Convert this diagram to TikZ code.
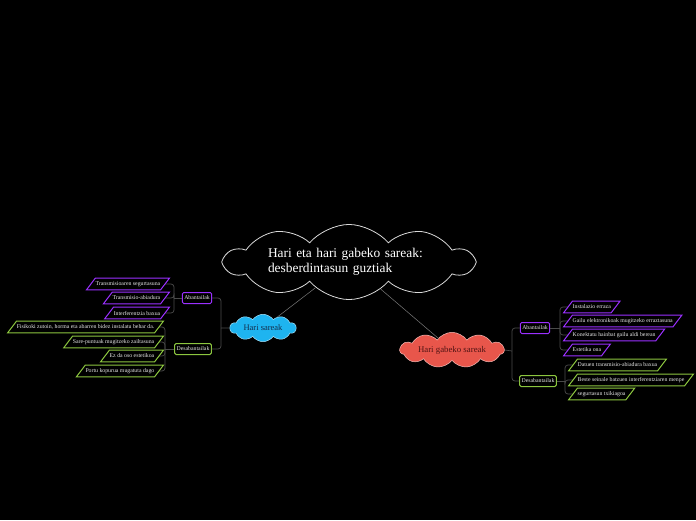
\documentclass[tikz,border=0pt]{standalone}
\usepackage{fontspec}
\setmainfont{Liberation Serif}
\usetikzlibrary{shapes.symbols}
\definecolor{pur}{HTML}{9B30FF}
\definecolor{grn}{HTML}{8CC63F}
\definecolor{cy}{HTML}{1EB4F0}
\definecolor{rd}{HTML}{E8564B}
\definecolor{connc}{HTML}{4A4A4A}
\definecolor{mainc}{HTML}{7A7A7A}
\definecolor{txt}{HTML}{E8E8E8}
\begin{document}
\begin{tikzpicture}[x=1pt,y=-1pt,
  fnt/.style={font=\fontsize{5.8}{6.8}\selectfont},
  item/.style={rectangle, draw=none, text=txt, fnt, inner xsep=4.5pt, inner ysep=0pt, minimum height=11.5pt},
  boxbase/.style={line width=1pt, rounded corners=1.5pt, fill=black, text=txt, fnt, minimum height=11pt, inner xsep=2pt, inner ysep=1pt},
  pbox/.style={boxbase, draw=pur},
  gbox/.style={boxbase, draw=grn},
  paraline/.style={line width=1pt, line join=miter},
  link/.style={draw=connc, line width=0.7pt, rounded corners=3pt},
  mainlink/.style={draw=mainc, line width=0.5pt},
]
\fill[black] (0,0) rectangle (696,520);
\useasboundingbox (0,0) rectangle (696,520);

% central cloud
\node[cloud, cloud puffs=10, cloud puff arc=100, cloud ignores aspect, minimum width=248pt, minimum height=64pt, draw=white!85!black, fill=black, line width=0.8pt, text=white, text width=162pt, align=left, inner sep=2pt, font=\fontsize{13.4}{14.5}\selectfont] (main) at (349,262) {Hari eta hari gabeko sareak:\\desberdintasun guztiak};

\node[cloud, cloud puffs=10, cloud puff arc=110, cloud ignores aspect, minimum width=66pt, minimum height=26pt, draw=cy!40!white, fill=cy, line width=0.5pt, text={rgb,255:red,20;green,45;blue,75}, font=\fontsize{8.5}{10}\selectfont] (hari) at (263,328) {Hari sareak};

\node[cloud, cloud puffs=11, cloud puff arc=110, cloud ignores aspect, minimum width=104pt, minimum height=29pt, draw=rd!40!white, fill=rd, line width=0.5pt, text={rgb,255:red,80;green,20;blue,20}, font=\fontsize{8.8}{10}\selectfont] (gab) at (452,350) {Hari gabeko sareak};

\draw[mainlink] (main) -- (hari);
\draw[mainlink] (main) -- (gab);

% left side
\node[pbox] (abL) at (197,298) {Abantailak};
\node[gbox] (desL) at (193,349) {Desabantailak};
\coordinate (jL) at (221,328);
\draw[link] (hari.west) -- (jL);
\draw[link] (jL) |- (abL.east);
\draw[link] (jL) |- (desL.east);

\node[item, anchor=east] (l1) at (165,284) {Transmisioaren segurtasuna};
\node[item, anchor=east] (l2) at (165,298) {Transmisio-abiadura};
\node[item, anchor=east] (l3) at (165,313) {Interferentzia baxua};
\coordinate (bL1) at (174,298);
\draw[link] (abL.west) -- (bL1);
\draw[link] (bL1) |- (l1.east);
\draw[link] (bL1) |- (l2.east);
\draw[link] (bL1) |- (l3.east);

\node[item, anchor=east] (l4) at (159,327) {Fisikoki zutoin, horma eta abarren bidez instalatu behar da.};
\node[item, anchor=east] (l5) at (159,342) {Sare-puntuak mugitzeko zailtasuna};
\node[item, anchor=east] (l6) at (159,356) {Ez da oso estetikoa};
\node[item, anchor=east] (l7) at (159,371) {Portu kopurua mugatuta dago};
\coordinate (bL2) at (165,349);
\draw[link] (desL.west) -- (bL2);
\draw[link] (bL2) |- (l4.east);
\draw[link] (bL2) |- (l5.east);
\draw[link] (bL2) |- (l6.east);
\draw[link] (bL2) |- (l7.east);

% right side
\node[pbox] (abR) at (535,328) {Abantailak};
\node[gbox] (desR) at (538,381) {Desabantailak};
\coordinate (jR) at (512,351);
\draw[link] (gab.east) -- (jR);
\draw[link] (jR) |- (abR.west);
\draw[link] (jR) |- (desR.west);

\node[item, anchor=west] (r1) at (568,307) {Instalazio erraza};
\node[item, anchor=west] (r2) at (568,321) {Gailu elektronikoak mugitzeko erraztasuna};
\node[item, anchor=west] (r3) at (568,335) {Konektatu hainbat gailu aldi berean};
\node[item, anchor=west] (r4) at (568,350) {Estetika ona};
\coordinate (bR1) at (560,328);
\draw[link] (abR.east) -- (bR1);
\draw[link] (bR1) |- (r1.west);
\draw[link] (bR1) |- (r2.west);
\draw[link] (bR1) |- (r3.west);
\draw[link] (bR1) |- (r4.west);

\node[item, anchor=west] (r5) at (573,365) {Datuen transmisio-abiadura baxua};
\node[item, anchor=west] (r6) at (573,380) {Beste seinale batzuen interferentziaren menpe};
\node[item, anchor=west] (r7) at (573,394) {segurtasun txikiagoa};
\coordinate (bR2) at (565,381);
\draw[link] (desR.east) -- (bR2);
\draw[link] (bR2) |- (r5.west);
\draw[link] (bR2) |- (r6.west);
\draw[link] (bR2) |- (r7.west);

% parallelogram outlines
\foreach \n/\c in {l1/pur,l2/pur,l3/pur,r1/pur,r2/pur,r3/pur,r4/pur,l4/grn,l5/grn,l6/grn,l7/grn,r5/grn,r6/grn,r7/grn}
  \draw[paraline, draw=\c] ([xshift=-4.5pt]\n.south west) -- ([xshift=-4.5pt]\n.south east) -- ([xshift=4.5pt]\n.north east) -- ([xshift=4.5pt]\n.north west) -- cycle;
\end{tikzpicture}
\end{document}
